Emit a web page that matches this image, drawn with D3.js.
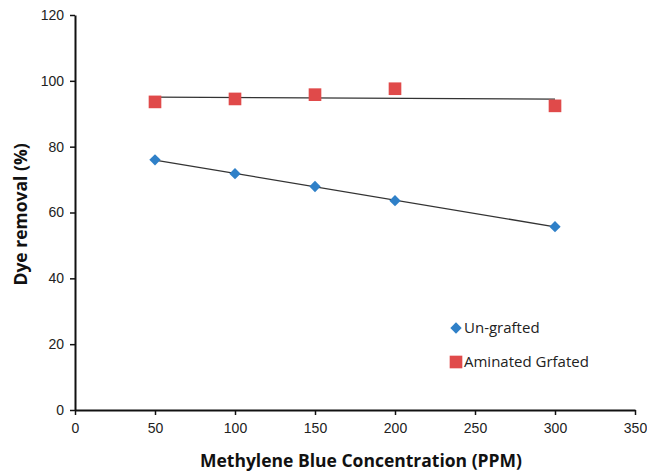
<!DOCTYPE html>
<html>
<head>
<meta charset="utf-8">
<script src="https://cdn.jsdelivr.net/npm/d3@7"></script>
<style>
  body { margin: 0; background: #fff; }
  svg { display: block; font-family: "Open Sans", "Liberation Sans", sans-serif; }
</style>
</head>
<body>
<svg id="chart" width="647" height="473"></svg>
<script>
// Methylene blue concentration (PPM)
const concentrations = [50, 100, 150, 200, 300];
// Dye removal (%) per adsorbent
const ungrafted = [76.0, 71.8, 67.9, 63.6, 55.7];
const aminated = [93.6, 94.5, 95.8, 97.6, 92.4];
const seriesNames = ["Un-grafted", "Aminated Grfated"];
const xTicks = [0, 50, 100, 150, 200, 250, 300, 350];
const yTicks = [0, 20, 40, 60, 80, 100, 120];

const svg = d3.select("#chart");
const x = d3.scaleLinear().domain([0, 350]).range([75, 635]);
const y = d3.scaleLinear().domain([0, 120]).range([410, 15]);

// square marker, optionally turned 45° to make a diamond
const series = [
  { name: seriesNames[0], values: ungrafted, color: "#2f80c8", size: 64, rotate: 45 },
  { name: seriesNames[1], values: aminated, color: "#e04a4a", size: 160, rotate: 0 }
];
const marker = s => d3.symbol().type(d3.symbolSquare).size(s.size)();

// least-squares trend line for a series
function fit(xs, ys) {
  const n = xs.length;
  const mx = d3.mean(xs), my = d3.mean(ys);
  let sxy = 0, sxx = 0;
  for (let i = 0; i < n; i++) { sxy += (xs[i] - mx) * (ys[i] - my); sxx += (xs[i] - mx) ** 2; }
  const b = sxy / sxx;
  return v => my + b * (v - mx);
}

// axes
const xAxis = svg.append("g").attr("transform", `translate(0,${y(0)})`)
  .call(d3.axisBottom(x).tickValues(xTicks).tickSize(5).tickSizeOuter(0).tickPadding(8));
const yAxis = svg.append("g").attr("transform", `translate(${x(0)},0)`)
  .call(d3.axisLeft(y).tickValues(yTicks).tickSize(5).tickSizeOuter(0).tickPadding(6));
[xAxis, yAxis].forEach(g => {
  g.select(".domain").attr("stroke", "#111").attr("stroke-width", 2);
  g.selectAll(".tick line").attr("stroke", "#111").attr("stroke-width", 1.5);
  g.selectAll(".tick text").attr("fill", "#222").style("font-size", "14px");
});

// trend lines
series.forEach(s => {
  const f = fit(concentrations, s.values);
  const x0 = d3.min(concentrations), x1 = d3.max(concentrations);
  svg.append("line")
    .attr("x1", x(x0)).attr("y1", y(f(x0)))
    .attr("x2", x(x1)).attr("y2", y(f(x1)))
    .attr("stroke", "#333").attr("stroke-width", 1.3);
});

// markers
series.forEach(s => {
  svg.append("g").selectAll("path").data(s.values).join("path")
    .attr("d", marker(s))
    .attr("transform", (d, i) => `translate(${x(concentrations[i])},${y(d)}) rotate(${s.rotate})`)
    .attr("fill", s.color);
});

// legend
const legend = svg.append("g");
series.forEach((s, i) => {
  const ly = 328 + i * 34;
  legend.append("path")
    .attr("d", marker(s))
    .attr("transform", `translate(456,${ly}) rotate(${s.rotate})`)
    .attr("fill", s.color);
  legend.append("text").attr("x", 464).attr("y", ly).attr("dy", "0.35em")
    .attr("fill", "#222").style("font-size", "15px").text(s.name);
});

// axis titles
svg.append("text").attr("x", 361).attr("y", 467).attr("text-anchor", "middle")
  .style("font-size", "17.5px").style("font-weight", "bold").attr("fill", "#111")
  .text("Methylene Blue Concentration (PPM)");
svg.append("text").attr("transform", `translate(27,${y(60) + 2}) rotate(-90)`).attr("text-anchor", "middle")
  .style("font-size", "17.5px").style("font-weight", "bold").attr("fill", "#111")
  .text("Dye removal (%)");
</script>
</body>
</html>
